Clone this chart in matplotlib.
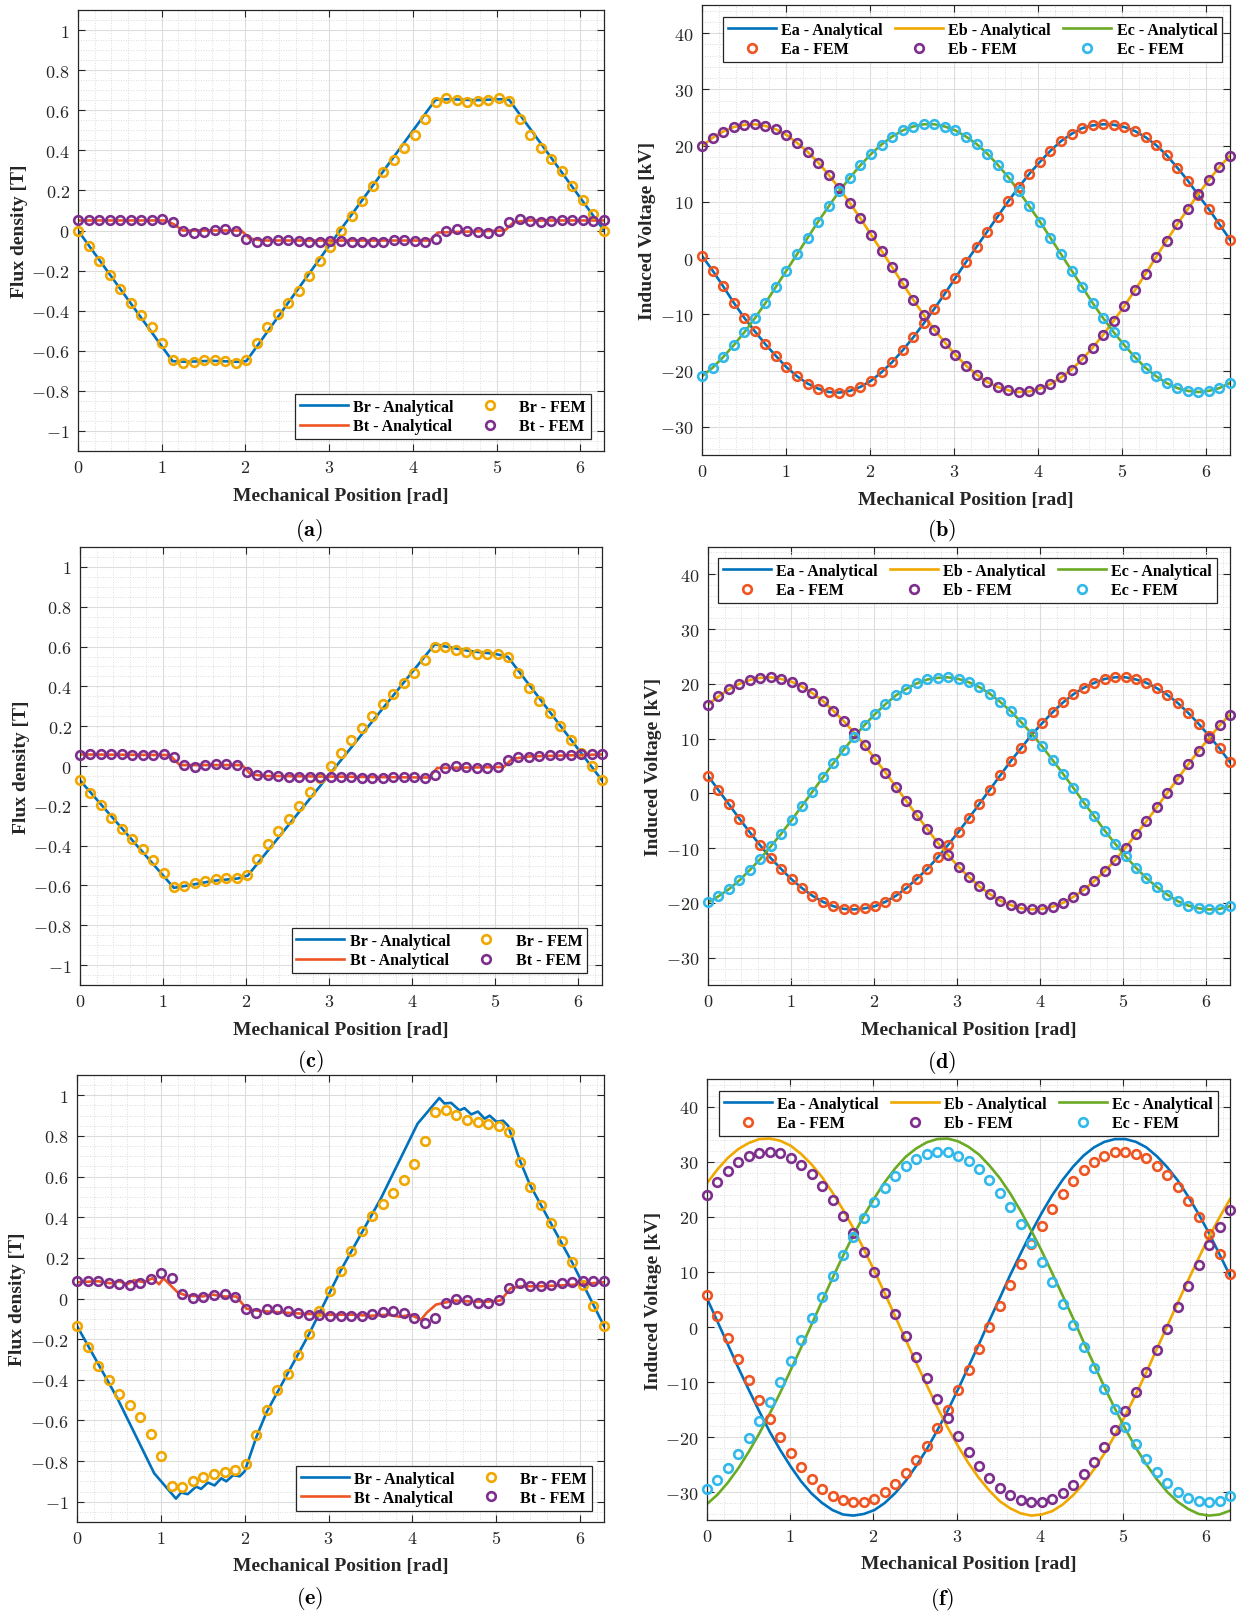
import numpy as np
import matplotlib
matplotlib.use("Agg")
import matplotlib.pyplot as plt
from matplotlib.ticker import MultipleLocator, FuncFormatter

plt.rcParams['mathtext.fontset'] = 'cm'
plt.rcParams['font.family'] = ['Liberation Serif', 'DejaVu Serif']

# ---------------- data ----------------
# FEM sample positions: 51 evenly spaced mechanical positions over one revolution
x_fem = np.linspace(0, 2 * np.pi, 51)

# (a) flux density, case 1
Br_an_a_x = [0, 1.13, 1.3, 1.6, 1.9, 2.01, 3.13, 4.27, 4.45, 4.75, 5.05, 5.15, 6.283]
Br_an_a_y = [0, -0.652, -0.655, -0.65, -0.655, -0.652, 0.0, 0.652, 0.655, 0.65, 0.655, 0.652, 0]
Bt_an_a_x = [0, 1.05, 1.15, 1.25, 1.95, 2.05, 2.2, 4.2, 4.3, 5.1, 5.2, 5.35, 6.283]
Bt_an_a_y = [0.05, 0.05, 0.03, 0.0, 0.0, -0.04, -0.05, -0.05, -0.01, 0.0, 0.04, 0.05, 0.05]
Br_fem_a = [0, -0.075, -0.15, -0.22, -0.29, -0.36, -0.42, -0.48, -0.56, -0.645, -0.66, -0.655,
            -0.647, -0.647, -0.65, -0.66, -0.647, -0.56, -0.48, -0.415, -0.36, -0.30, -0.225,
            -0.15, -0.08, 0.0, 0.07, 0.145, 0.22, 0.29, 0.35, 0.41, 0.475, 0.555, 0.64, 0.66,
            0.65, 0.64, 0.645, 0.65, 0.66, 0.645, 0.555, 0.475, 0.41, 0.355, 0.295, 0.22, 0.15,
            0.08, 0.0]
Bt_fem_a = [0.05, 0.05, 0.05, 0.05, 0.05, 0.05, 0.05, 0.05, 0.055, 0.04, 0.0, -0.01, -0.005,
            0.003, 0.008, 0.0, -0.04, -0.055, -0.05, -0.045, -0.045, -0.05, -0.055, -0.055,
            -0.05, -0.05, -0.055, -0.058, -0.058, -0.055, -0.045, -0.045, -0.05, -0.055, -0.04,
            0.0, 0.008, 0.0, -0.008, -0.01, 0.0, 0.04, 0.055, 0.047, 0.042, 0.045, 0.05, 0.053,
            0.05, 0.047, 0.05]

# (b) induced voltage, case 1
Ea_b = [0.4, -2.2, -5.0, -7.9, -10.6, -13.0, -15.3, -17.4, -19.4, -21.0, -22.3, -23.2, -23.8,
        -23.9, -23.6, -22.9, -21.8, -20.3, -18.5, -16.4, -14.1, -11.6, -9.0, -6.3, -3.5, -0.7,
        2.0, 4.7, 7.4, 10.1, 12.6, 15.0, 17.1, 19.1, 20.8, 22.1, 23.1, 23.6, 23.8, 23.7, 23.3,
        22.6, 21.5, 20.1, 18.3, 16.1, 13.8, 11.2, 8.7, 6.0, 3.3]
Eb_b = [19.9, 21.4, 22.5, 23.3, 23.7, 23.8, 23.5, 22.9, 21.9, 20.5, 18.9, 17.0, 14.8, 12.4, 9.8,
        7.1, 4.2, 1.3, -1.6, -4.5, -7.4, -10.1, -12.7, -15.0, -17.2, -19.1, -20.7, -22.0, -22.9,
        -23.5, -23.8, -23.7, -23.2, -22.4, -21.2, -19.8, -18.0, -15.9, -13.6, -11.1, -8.5, -5.7,
        -2.8, 0.2, 3.1, 6.0, 8.7, 11.4, 13.9, 16.2, 18.2]
Ec_b = [-21.0, -19.5, -17.6, -15.5, -13.2, -10.7, -8.0, -5.1, -2.2, 0.7, 3.6, 6.5, 9.2, 11.9,
        14.3, 16.5, 18.5, 20.2, 21.6, 22.7, 23.4, 23.8, 23.8, 23.4, 22.7, 21.6, 20.3, 18.6, 16.6,
        14.4, 11.9, 9.2, 6.5, 3.6, 0.7, -2.2, -5.1, -8.0, -10.7, -13.2, -15.5, -17.6, -19.5,
        -21.0, -22.2, -23.1, -23.6, -23.8, -23.6, -23.1, -22.2]

# (c) flux density, case 2
Br_an_c_x = [0, 1.13, 1.3, 1.6, 1.9, 2.02, 4.27, 4.4, 4.7, 5.0, 5.15, 6.283]
Br_an_c_y = [-0.072, -0.612, -0.60, -0.577, -0.565, -0.55, 0.612, 0.60, 0.577, 0.563, 0.548, -0.072]
Bt_an_c_x = [0, 1.08, 1.2, 1.95, 2.05, 2.2, 4.2, 4.3, 5.1, 5.2, 5.4, 6.283]
Bt_an_c_y = [0.058, 0.055, 0.005, 0.005, -0.04, -0.05, -0.058, -0.01, -0.005, 0.035, 0.048, 0.058]
Br_fem_c = [-0.072, -0.135, -0.197, -0.26, -0.318, -0.368, -0.418, -0.472, -0.535, -0.608,
            -0.605, -0.588, -0.577, -0.568, -0.563, -0.563, -0.547, -0.468, -0.393, -0.327,
            -0.268, -0.2, -0.133, -0.062, 0.0, 0.067, 0.132, 0.193, 0.253, 0.312, 0.363, 0.415,
            0.467, 0.532, 0.60, 0.60, 0.583, 0.573, 0.565, 0.562, 0.562, 0.545, 0.467, 0.39,
            0.325, 0.265, 0.20, 0.133, 0.067, 0.0, -0.068]
Bt_fem_c = [0.057, 0.058, 0.06, 0.06, 0.058, 0.053, 0.053, 0.057, 0.06, 0.045, 0.007, -0.005,
            0.003, 0.01, 0.012, 0.003, -0.03, -0.047, -0.047, -0.052, -0.055, -0.055, -0.055,
            -0.055, -0.055, -0.057, -0.057, -0.06, -0.06, -0.06, -0.057, -0.055, -0.057, -0.06,
            -0.047, -0.01, 0.0, -0.003, -0.008, -0.012, -0.005, 0.032, 0.045, 0.043, 0.05, 0.053,
            0.053, 0.057, 0.058, 0.058, 0.058]

# (d) induced voltage, case 2
Ea_d = [3.2, 0.6, -2.0, -4.6, -7.1, -9.5, -11.8, -13.8, -15.7, -17.3, -18.7, -19.8, -20.6, -21.1,
        -21.2, -21.0, -20.6, -19.8, -18.7, -17.3, -15.6, -13.8, -11.7, -9.4, -7.0, -4.5, -1.9,
        0.7, 3.3, 5.9, 8.3, 10.7, 12.8, 14.8, 16.6, 18.1, 19.3, 20.2, 20.9, 21.2, 21.2, 20.8,
        20.2, 19.2, 18.0, 16.5, 14.7, 12.7, 10.5, 8.2, 5.7]
Eb_d = [16.2, 17.7, 19.0, 20.0, 20.7, 21.1, 21.2, 20.9, 20.4, 19.5, 18.3, 16.9, 15.1, 13.2, 11.1,
        8.8, 6.3, 3.8, 1.2, -1.4, -4.0, -6.5, -9.0, -11.3, -13.4, -15.3, -17.0, -18.4, -19.6,
        -20.4, -21.0, -21.2, -21.1, -20.7, -20.0, -18.9, -17.6, -16.0, -14.2, -12.2, -9.9, -7.5,
        -5.1, -2.5, 0.1, 2.7, 5.3, 7.8, 10.1, 12.4, 14.4]
Ec_d = [-19.9, -18.8, -17.5, -15.9, -14.0, -12.0, -9.7, -7.4, -4.9, -2.3, 0.3, 2.9, 5.5, 8.0,
        10.3, 12.5, 14.5, 16.3, 17.9, 19.1, 20.1, 20.8, 21.1, 21.2, 20.9, 20.3, 19.4, 18.2, 16.7,
        15.0, 13.0, 10.9, 8.6, 6.1, 3.6, 1.0, -1.7, -4.2, -6.8, -9.2, -11.5, -13.6, -15.5, -17.1,
        -18.5, -19.7, -20.5, -21.0, -21.2, -21.1, -20.6]

# (e) flux density, case 3
Br_an_e_x = [0, 0.48, 0.92, 1.18, 1.24, 1.32, 1.42, 1.48, 1.56, 1.64, 1.72, 1.78, 1.86, 1.94, 2.0,
             2.14, 2.26, 2.51, 2.76, 3.14, 3.62, 4.06, 4.32, 4.38, 4.46, 4.56, 4.62, 4.70, 4.78,
             4.86, 4.92, 5.0, 5.08, 5.14, 5.28, 5.4, 5.65, 5.9, 6.283]
Br_an_e_y = [-0.135, -0.49, -0.86, -0.985, -0.955, -0.963, -0.926, -0.937, -0.906, -0.92, -0.885,
             -0.9, -0.87, -0.875, -0.85, -0.68, -0.56, -0.37, -0.18, 0.135, 0.49, 0.86, 0.987,
             0.96, 0.963, 0.926, 0.937, 0.906, 0.92, 0.885, 0.9, 0.87, 0.875, 0.85, 0.68, 0.56,
             0.37, 0.18, -0.135]
Bt_an_e_x = [0, 0.25, 0.4, 0.5, 0.6, 0.68, 0.8, 0.9, 0.98, 1.03, 1.2, 1.3, 1.5, 1.6, 1.75, 1.9,
             2.02, 2.15, 2.3, 2.5, 2.7, 3.0, 3.3, 3.5, 3.7, 3.85, 3.98, 4.1, 4.17, 4.28, 4.5, 4.7,
             4.9, 5.05, 5.17, 5.3, 5.5, 5.8, 6.0, 6.283]
Bt_an_e_y = [0.08, 0.085, 0.075, 0.085, 0.07, 0.09, 0.08, 0.1, 0.07, 0.1, 0.03, 0.015, 0.01, 0.02,
             0.01, 0.01, -0.05, -0.06, -0.065, -0.07, -0.075, -0.08, -0.08, -0.085, -0.08, -0.09,
             -0.08, -0.105, -0.07, -0.03, -0.01, -0.015, -0.015, -0.01, 0.05, 0.06, 0.06, 0.065,
             0.07, 0.08]
Br_fem_e = [-0.135, -0.237, -0.33, -0.40, -0.47, -0.525, -0.585, -0.665, -0.775, -0.923, -0.927,
            -0.90, -0.88, -0.866, -0.852, -0.843, -0.816, -0.67, -0.55, -0.45, -0.37, -0.278,
            -0.175, -0.062, 0.036, 0.137, 0.235, 0.33, 0.405, 0.467, 0.52, 0.583, 0.663, 0.774,
            0.92, 0.927, 0.904, 0.88, 0.868, 0.86, 0.85, 0.82, 0.672, 0.55, 0.462, 0.374, 0.283,
            0.178, 0.066, -0.036, -0.135]
Bt_fem_e = [0.084, 0.087, 0.087, 0.078, 0.071, 0.066, 0.075, 0.098, 0.125, 0.10, 0.021, 0.004,
            0.009, 0.018, 0.021, 0.007, -0.053, -0.071, -0.053, -0.053, -0.062, -0.073, -0.08,
            -0.08, -0.086, -0.086, -0.086, -0.086, -0.077, -0.068, -0.062, -0.073, -0.094, -0.121,
            -0.098, -0.023, 0.0, -0.009, -0.02, -0.023, -0.005, 0.052, 0.075, 0.062, 0.061, 0.064,
            0.075, 0.080, 0.084, 0.084, 0.084]

# (f) induced voltage, case 3
Ea_an_f = [5.2, 1.0, -3.2, -7.4, -11.4, -15.3, -19.0, -22.3, -25.3, -28.0, -30.2, -31.9, -33.2,
           -34.0, -34.2, -33.9, -33.2, -31.9, -30.1, -27.9, -25.2, -22.2, -18.8, -15.2, -11.3,
           -7.2, -3.1, 1.2, 5.3, 9.5, 13.4, 17.2, 20.7, 23.9, 26.7, 29.1, 31.1, 32.6, 33.6, 34.1,
           34.1, 33.6, 32.6, 31.0, 29.0, 26.6, 23.7, 20.5, 17.0, 13.2, 9.3]
Eb_an_f = [26.1, 28.6, 30.7, 32.3, 33.4, 34.1, 34.2, 33.8, 32.9, 31.4, 29.5, 27.2, 24.4, 21.3,
           17.9, 14.1, 10.2, 6.1, 1.9, -2.3, -6.5, -10.5, -14.5, -18.2, -21.6, -24.7, -27.4,
           -29.7, -31.6, -32.9, -33.8, -34.2, -34.0, -33.4, -32.2, -30.5, -28.4, -25.8, -22.9,
           -19.6, -16.0, -12.2, -8.2, -4.0, 0.2, 4.4, 8.5, 12.5, 16.4, 19.9, 23.2]
Ec_an_f = [-32.1, -30.4, -28.2, -25.6, -22.6, -19.3, -15.7, -11.9, -7.8, -3.7, 0.5, 4.7, 8.9,
           12.9, 16.7, 20.2, 23.4, 26.3, 28.8, 30.9, 32.4, 33.5, 34.1, 34.2, 33.7, 32.7, 31.3,
           29.3, 27.0, 24.2, 21.0, 17.5, 13.8, 9.8, 5.7, 1.6, -2.7, -6.8, -10.9, -14.8, -18.5,
           -21.9, -24.9, -27.6, -29.9, -31.7, -33.0, -33.9, -34.2, -34.0, -33.3]
Ea_fem_f = [5.9, 2.0, -1.9, -5.8, -9.6, -13.2, -16.7, -19.9, -22.8, -25.4, -27.5, -29.3, -30.6,
            -31.4, -31.8, -31.7, -31.1, -30.0, -28.5, -26.5, -24.2, -21.5, -18.4, -15.1, -11.5,
            -7.8, -4.0, 0.0, 3.9, 7.7, 11.5, 15.0, 18.3, 21.4, 24.1, 26.5, 28.5, 30.0, 31.1, 31.7,
            31.8, 31.4, 30.6, 29.3, 27.6, 25.4, 22.9, 20.0, 16.8, 13.3, 9.7]
Eb_fem_f = [23.9, 26.3, 28.3, 29.9, 31.0, 31.6, 31.8, 31.5, 30.7, 29.4, 27.7, 25.6, 23.1, 20.2,
            17.0, 13.6, 10.0, 6.2, 2.3, -1.6, -5.5, -9.3, -13.0, -16.5, -19.7, -22.6, -25.2,
            -27.4, -29.2, -30.5, -31.4, -31.8, -31.7, -31.1, -30.1, -28.6, -26.7, -24.4, -21.7,
            -18.6, -15.3, -11.8, -8.1, -4.2, -0.3, 3.6, 7.5, 11.2, 14.8, 18.1, 21.2]
Ec_fem_f = [-29.4, -27.7, -25.6, -23.1, -20.2, -17.0, -13.6, -10.0, -6.2, -2.3, 1.6, 5.5, 9.3,
            13.0, 16.4, 19.7, 22.6, 25.2, 27.4, 29.2, 30.5, 31.4, 31.8, 31.7, 31.1, 30.1, 28.6,
            26.7, 24.4, 21.7, 18.7, 15.3, 11.8, 8.1, 4.2, 0.3, -3.6, -7.4, -11.2, -14.8, -18.1,
            -21.2, -23.9, -26.3, -28.3, -29.9, -31.0, -31.6, -31.8, -31.5, -30.7]

captions = ['a', 'b', 'c', 'd', 'e', 'f']

# ---------------- style ----------------
C_BLUE = '#0072BD'
C_RED = '#EE5522'
C_YEL = '#F0A800'
C_PUR = '#7E2F8E'
C_GRN = '#6BAA24'
C_CYA = '#30B9EA'
LW = 1.9
MS = 6.2
MEW = 1.9

W, H = 1236, 1615
fig = plt.figure(figsize=(W / 100, H / 100), dpi=100)


def add_ax(l, t, r, b):
    return fig.add_axes([l / W, 1 - b / H, (r - l) / W, (b - t) / H])


def fmt(v, p):
    v = round(v, 6) + 0.0
    if v == 0:
        v = 0.0
    return "$%g$" % v


def style(ax, flux):
    ax.set_xlim(0, 2 * np.pi)
    if flux:
        ax.set_ylim(-1.1, 1.1)
        ax.yaxis.set_major_locator(MultipleLocator(0.2))
        ax.yaxis.set_minor_locator(MultipleLocator(0.05))
    else:
        ax.set_ylim(-35, 45)
        ax.yaxis.set_major_locator(MultipleLocator(10))
        ax.yaxis.set_minor_locator(MultipleLocator(2))
    ax.xaxis.set_major_locator(MultipleLocator(1))
    ax.xaxis.set_minor_locator(MultipleLocator(0.2))
    ax.xaxis.set_major_formatter(FuncFormatter(fmt))
    ax.yaxis.set_major_formatter(FuncFormatter(fmt))
    ax.set_axisbelow(True)
    ax.grid(which='major', color='#DCDCDC', lw=0.8, ls='-')
    ax.grid(which='minor', color='#D2D2D2', lw=0.6, ls=(0, (1, 2)))
    ax.tick_params(which='major', direction='in', length=5, width=0.8, top=True, right=True,
                   labelsize=13, pad=6, color='#262626', labelcolor='#262626')
    ax.tick_params(which='minor', length=0, top=True, right=True)
    for s in ax.spines.values():
        s.set_color('#262626')
        s.set_linewidth(0.9)
    ax.set_xlabel('Mechanical Position [rad]', fontsize=14, fontweight='bold', color='#262626')
    ax.set_ylabel('Flux density [T]' if flux else 'Induced Voltage [kV]', fontsize=14,
                  fontweight='bold', color='#262626')


def legend(ax, handles, ncol, loc, anchor):
    leg = ax.legend(handles=handles, ncol=ncol, loc=loc, bbox_to_anchor=anchor,
                    borderaxespad=0, fancybox=False, framealpha=1, edgecolor='#262626',
                    prop={'family': ['Liberation Serif'], 'weight': 'bold', 'size': 11.5},
                    handlelength=3.0, handletextpad=0.35, columnspacing=0.75,
                    labelspacing=0.22, borderpad=0.3, numpoints=1)
    leg.get_frame().set_linewidth(0.9)
    return leg


def flux_panel(ax, brx, bry, btx, bty, brf, btf):
    h1, = ax.plot(brx, bry, color=C_BLUE, lw=LW, label='Br - Analytical', zorder=2)
    h2, = ax.plot(btx, bty, color=C_RED, lw=LW, label='Bt - Analytical', zorder=2)
    h3, = ax.plot(x_fem, brf, ls='none', marker='o', ms=MS, mew=MEW, mfc='none', mec=C_YEL,
                  label='Br - FEM', zorder=3, clip_on=False)
    h4, = ax.plot(x_fem, btf, ls='none', marker='o', ms=MS, mew=MEW, mfc='none', mec=C_PUR,
                  label='Bt - FEM', zorder=3, clip_on=False)
    style(ax, True)
    return [h1, h2, h3, h4]


def volt_panel(ax, ea, eb, ec, fa, fb, fc):
    h1, = ax.plot(x_fem, ea, color=C_BLUE, lw=LW, label='Ea - Analytical', zorder=2)
    h2, = ax.plot(x_fem, eb, color=C_YEL, lw=LW, label='Eb - Analytical', zorder=2)
    h3, = ax.plot(x_fem, ec, color=C_GRN, lw=LW, label='Ec - Analytical', zorder=2)
    h4, = ax.plot(x_fem, fa, ls='none', marker='o', ms=MS, mew=MEW, mfc='none', mec=C_RED,
                  label='Ea - FEM', zorder=3, clip_on=False)
    h5, = ax.plot(x_fem, fb, ls='none', marker='o', ms=MS, mew=MEW, mfc='none', mec=C_PUR,
                  label='Eb - FEM', zorder=3, clip_on=False)
    h6, = ax.plot(x_fem, fc, ls='none', marker='o', ms=MS, mew=MEW, mfc='none', mec=C_CYA,
                  label='Ec - FEM', zorder=3, clip_on=False)
    style(ax, False)
    return [h1, h4, h2, h5, h3, h6]


# axes boxes in pixels (left, top, right, bottom)
boxes = {
    'a': (78, 11, 604, 452),
    'b': (702, 6, 1230, 456),
    'c': (80, 548, 602, 986),
    'd': (708, 548, 1230, 986),
    'e': (77, 1076, 604, 1523),
    'f': (707, 1080, 1230, 1521),
}
cap_pos = {'a': (309, 531), 'b': (942, 531), 'c': (310, 1062), 'd': (942, 1063),
           'e': (310, 1599), 'f': (942, 1600)}

ax_a = add_ax(*boxes['a'])
hs = flux_panel(ax_a, Br_an_a_x, Br_an_a_y, Bt_an_a_x, Bt_an_a_y, Br_fem_a, Bt_fem_a)
legend(ax_a, hs, 2, 'lower right', (0.975, 0.027))

ax_b = add_ax(*boxes['b'])
hs = volt_panel(ax_b, Ea_b, Eb_b, Ec_b, Ea_b, Eb_b, Ec_b)
legend(ax_b, hs, 3, 'upper right', (0.985, 0.973))

ax_c = add_ax(*boxes['c'])
hs = flux_panel(ax_c, Br_an_c_x, Br_an_c_y, Bt_an_c_x, Bt_an_c_y, Br_fem_c, Bt_fem_c)
legend(ax_c, hs, 2, 'lower right', (0.972, 0.027))

ax_d = add_ax(*boxes['d'])
hs = volt_panel(ax_d, Ea_d, Eb_d, Ec_d, Ea_d, Eb_d, Ec_d)
legend(ax_d, hs, 3, 'upper right', (0.975, 0.975))

ax_e = add_ax(*boxes['e'])
hs = flux_panel(ax_e, Br_an_e_x, Br_an_e_y, Bt_an_e_x, Bt_an_e_y, Br_fem_e, Bt_fem_e)
legend(ax_e, hs, 2, 'lower right', (0.977, 0.025))

ax_f = add_ax(*boxes['f'])
hs = volt_panel(ax_f, Ea_an_f, Eb_an_f, Ec_an_f, Ea_fem_f, Eb_fem_f, Ec_fem_f)
legend(ax_f, hs, 3, 'upper right', (0.977, 0.973))

# label positions
for key, ax in zip('abcdef', [ax_a, ax_b, ax_c, ax_d, ax_e, ax_f]):
    l, t, r, b = boxes[key]
    w, h = r - l, b - t
    ylab_x = {'a': 20, 'c': 22, 'e': 18, 'b': 648, 'd': 654, 'f': 654}[key]
    ax.yaxis.set_label_coords((ylab_x - l) / w, 0.5)
    ax.yaxis.label.set_va('center')
    ax.xaxis.set_label_coords(0.5, -44 / h)
    ax.xaxis.label.set_va('center')
    cx, cy = cap_pos[key]
    fig.text(cx / W, 1 - cy / H, r"$(\mathbf{%s})$" % key, ha='center', va='center',
             fontsize=16, color='black')

fig.savefig('out.png', dpi=100)
